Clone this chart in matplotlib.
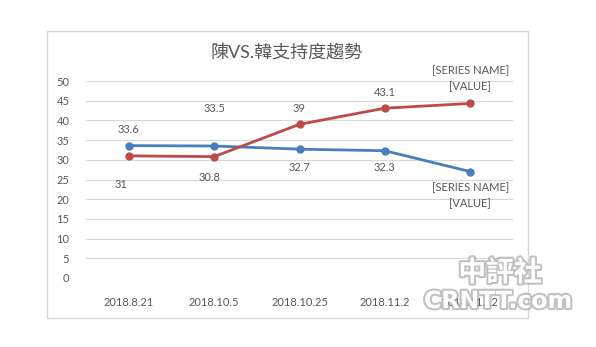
import matplotlib
matplotlib.use('Agg')
from matplotlib import pyplot as plt
from matplotlib import patheffects as pe
from matplotlib.patches import Rectangle

plt.rcParams['font.family'] = ['Lato', 'Noto Sans CJK TC', 'DejaVu Sans']

# data
dates = ['2018.8.21', '2018.10.5', '2018.10.25', '2018.11.2', '2018.11.12']
chen = [33.6, 33.5, 32.7, 32.3, 27.0]   # blue
han = [31, 30.8, 39, 43.1, 44.3]        # red
chen_labels = ['33.6', '33.5', '32.7', '32.3', '[SERIES NAME]\n[VALUE]']
han_labels = ['31', '30.8', '39', '43.1', '[SERIES NAME]\n[VALUE]']

# label offsets in pixels (moved by hand in the original)
chen_off = [(0, 16), (0, 38), (0, -18), (0, -17), (0, -24)]
han_off = [(-8, -29), (-5, -21), (0, 16), (0, 16), (0, 25)]

blue = '#4a7ebb'
red = '#be4b48'
gray = '#595959'

fig = plt.figure(figsize=(5.96, 3.47), dpi=100)
fig.patch.set_facecolor('white')

# chart area border
fig.patches.append(Rectangle((47/596, 1-318/347), (528-47)/596, (318-31)/347,
                             transform=fig.transFigure, fill=False,
                             edgecolor='#d9d9d9', linewidth=1))

ax = fig.add_axes([86/596, 1-278/347, (513-86)/596, (278-81)/347])
x = range(len(dates))
ax.plot(x, chen, color=blue, linewidth=2, marker='o', markersize=5, zorder=3)
ax.plot(x, han, color=red, linewidth=2, marker='o', markersize=5, zorder=3)

for i in x:
    ax.annotate(chen_labels[i], (i, chen[i]), xytext=chen_off[i],
                textcoords='offset pixels', ha='center', va='center',
                fontsize=8, color=gray, linespacing=1.5)
    ax.annotate(han_labels[i], (i, han[i]), xytext=han_off[i],
                textcoords='offset pixels', ha='center', va='center',
                fontsize=8, color=gray, linespacing=1.5)

ax.set_xlim(-0.5, len(dates) - 0.5)
ax.set_ylim(0, 50)
ax.set_yticks(range(0, 51, 5))
ax.set_xticks(list(x))
ax.set_xticklabels(dates)
ax.grid(axis='y', color='#d9d9d9', linewidth=0.8)
ax.set_axisbelow(True)
for s in ax.spines.values():
    s.set_visible(False)
ax.tick_params(axis='both', length=0, labelsize=8, colors=gray)
ax.tick_params(axis='y', pad=12)
ax.tick_params(axis='x', pad=14)

fig.text(287/596, 1-53/347, '陳VS.韓支持度趨勢', ha='center', va='center',
         fontsize=13, color=gray)

# watermark
shadow = [pe.withStroke(linewidth=3, foreground='#9a9a9a', alpha=0.6)]
fig.text(500/596, 1-273/347, '中評社', ha='center', va='center', fontsize=20,
         color='white', fontweight='bold', path_effects=shadow, zorder=10,
         family=['Noto Sans CJK TC'])
fig.text(498/596, 1-301/347, 'CRNTT.com', ha='center', va='center', fontsize=17,
         color='white', fontweight='bold', path_effects=shadow, zorder=10,
         family=['DejaVu Sans'])

fig.savefig('out.png', dpi=100)
